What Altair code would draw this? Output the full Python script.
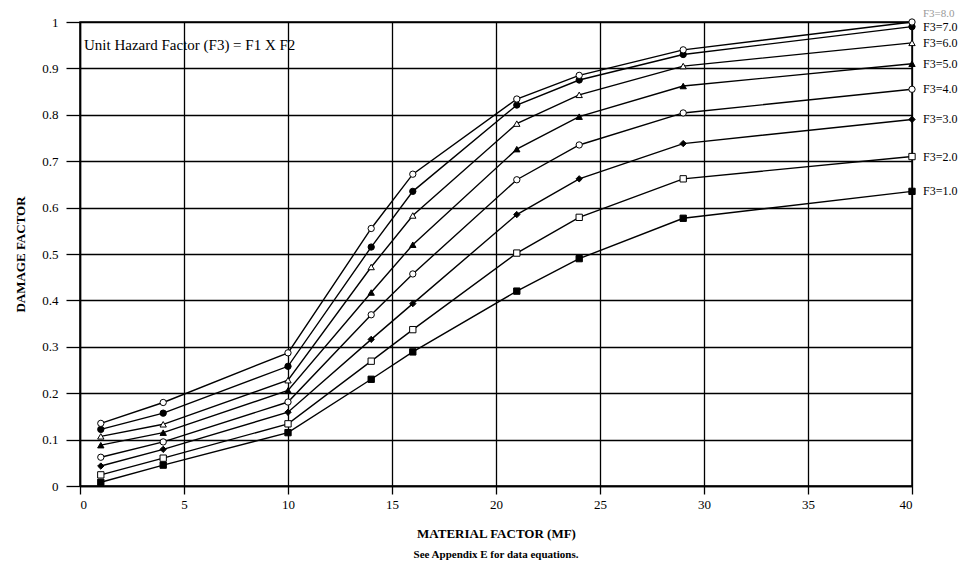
import altair as alt
import pandas as pd

mf = [1, 4, 10, 14, 16, 21, 24, 29, 40]
series_names = ["F3=1.0", "F3=2.0", "F3=3.0", "F3=4.0", "F3=5.0", "F3=6.0", "F3=7.0", "F3=8.0"]
f1 = [0.008, 0.045, 0.115, 0.230, 0.289, 0.420, 0.490, 0.577, 0.635]
f2 = [0.024, 0.060, 0.134, 0.269, 0.337, 0.502, 0.579, 0.662, 0.710]
f3 = [0.043, 0.079, 0.159, 0.316, 0.393, 0.585, 0.662, 0.738, 0.790]
f4 = [0.062, 0.095, 0.181, 0.369, 0.457, 0.660, 0.735, 0.804, 0.855]
f5 = [0.088, 0.115, 0.206, 0.417, 0.520, 0.726, 0.796, 0.862, 0.910]
f6 = [0.107, 0.133, 0.228, 0.472, 0.583, 0.781, 0.843, 0.905, 0.955]
f7 = [0.122, 0.157, 0.258, 0.515, 0.635, 0.821, 0.875, 0.930, 0.990]
f8 = [0.135, 0.180, 0.287, 0.555, 0.672, 0.834, 0.885, 0.940, 1.000]
all_vals = [f1, f2, f3, f4, f5, f6, f7, f8]

shapes = ["square", "square", "diamond", "circle", "triangle-up", "triangle-up", "circle", "circle"]
fills = ["black", "white", "black", "white", "black", "white", "black", "white"]

rows = []
for name, vals in zip(series_names, all_vals):
    for x, y in zip(mf, vals):
        rows.append({"series": name, "MF": x, "DF": y})
df = pd.DataFrame(rows)
last = df[df["MF"] == mf[-1]]

FONT = "Liberation Serif"

xs = alt.X("MF:Q", scale=alt.Scale(domain=[0, 40], nice=False),
           axis=alt.Axis(values=[0, 5, 10, 15, 20, 25, 30, 35, 40], title="MATERIAL FACTOR (MF)",
                         tickSize=8, labelPadding=4, titlePadding=16))
ys = alt.Y("DF:Q", scale=alt.Scale(domain=[0, 1], nice=False),
           axis=alt.Axis(values=[0, 0.1, 0.2, 0.3, 0.4, 0.5, 0.6, 0.7, 0.8, 0.9, 1.0], format="~g",
                         title="DAMAGE FACTOR", tickSize=14, labelPadding=8, titlePadding=14))

lines = alt.Chart(df).mark_line(color="black", strokeWidth=1.4).encode(
    x=xs, y=ys, detail="series:N")

points = alt.Chart(df).mark_point(filled=True, stroke="black", strokeWidth=1, size=40, opacity=1).encode(
    x="MF:Q", y="DF:Q",
    shape=alt.Shape("series:N", scale=alt.Scale(domain=series_names, range=shapes), legend=None),
    fill=alt.Fill("series:N", scale=alt.Scale(domain=series_names, range=fills), legend=None),
)

labels = alt.Chart(last[last["series"] != "F3=8.0"]).mark_text(
    align="left", baseline="middle", dx=11, font=FONT, fontSize=12, color="black").encode(
    x="MF:Q", y="DF:Q", text="series:N")
label8 = alt.Chart(last[last["series"] == "F3=8.0"]).mark_text(
    align="left", baseline="middle", dx=11, dy=-8, font=FONT, fontSize=11, color="#999999").encode(
    x="MF:Q", y="DF:Q", text="series:N")

note = alt.Chart(pd.DataFrame({"t": ["Unit Hazard Factor (F3) = F1 X F2"]})).mark_text(
    align="left", baseline="middle", font=FONT, fontSize=15, color="black").encode(
    x=alt.value(4), y=alt.value(23), text="t:N")

chart = alt.layer(lines, points, labels, label8, note).properties(
    width=832, height=464,
    background="white",
    title=alt.TitleParams("See Appendix E for data equations.", orient="bottom", anchor="middle",
                          font=FONT, fontSize=11, fontWeight="bold", offset=9, color="black"),
    padding={"left": 72, "top": 14, "right": 47, "bottom": 80},
    autosize=alt.AutoSizeParams(type="none"),
).configure_axis(
    grid=True, gridColor="black", gridWidth=1.3, gridOpacity=1,
    domainColor="black", domainWidth=1.5, tickColor="black", tickWidth=1.3,
    labelFont=FONT, labelFontSize=13, labelColor="black",
    titleFont=FONT, titleFontSize=13, titleFontWeight="bold", titleColor="black",
).configure_view(stroke="black", strokeWidth=1.5)

chart.save("out.html", embed_options={"renderer": "svg", "actions": False})
